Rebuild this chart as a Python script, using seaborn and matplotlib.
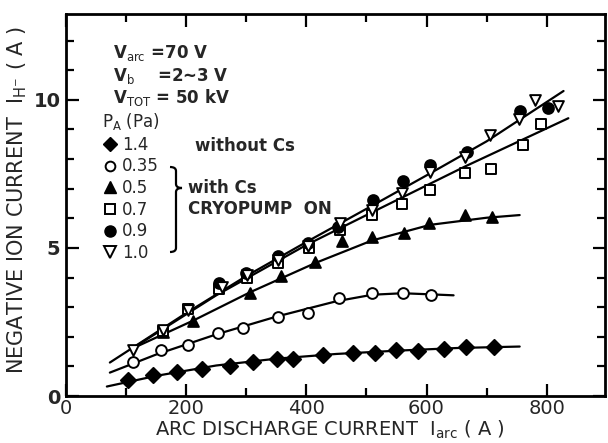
import numpy as np
import pandas as pd
import matplotlib
matplotlib.use("Agg")
import matplotlib.pyplot as plt
import seaborn as sns
from matplotlib.lines import Line2D
from matplotlib.path import Path
from matplotlib.patches import PathPatch
from matplotlib.ticker import MultipleLocator

# ---- data ----
i_14 = [104, 144, 184, 226, 273, 312, 351, 378, 428, 477, 514, 549, 585, 629, 665, 713]
h_14 = [0.55, 0.70, 0.82, 0.92, 1.02, 1.15, 1.25, 1.25, 1.38, 1.44, 1.46, 1.54, 1.52, 1.58, 1.66, 1.66]

i_035 = [112, 158, 203, 253, 294, 352, 402, 455, 510, 561, 607]
h_035 = [1.16, 1.55, 1.72, 2.14, 2.31, 2.68, 2.79, 3.30, 3.47, 3.47, 3.41]

i_05 = [162, 212, 306, 357, 415, 460, 509, 562, 604, 664, 709]
h_05 = [2.15, 2.52, 3.47, 4.05, 4.54, 5.25, 5.38, 5.50, 5.85, 6.11, 6.06]

i_07 = [162, 203, 255, 301, 353, 405, 456, 509, 559, 606, 664, 708, 760, 791]
h_07 = [2.20, 2.95, 3.60, 4.00, 4.50, 5.00, 5.60, 6.10, 6.50, 6.96, 7.52, 7.65, 8.48, 9.20]

i_09 = [255, 300, 353, 403, 452, 511, 561, 606, 667, 755, 802]
h_09 = [3.80, 4.15, 4.73, 5.16, 5.72, 6.62, 7.27, 7.80, 8.25, 9.62, 9.73]

i_10 = [112, 162, 203, 259, 301, 353, 403, 456, 509, 559, 606, 664, 705, 754, 780, 818]
h_10 = [1.55, 2.23, 2.92, 3.68, 4.10, 4.60, 5.05, 5.85, 6.27, 6.86, 7.58, 8.08, 8.80, 9.35, 10.0, 9.80]

# hand-drawn guide curves (knots)
c_up_x = [73, 200, 300, 400, 500, 600, 700, 828]
c_up_y = [1.13, 2.80, 4.05, 5.20, 6.32, 7.45, 8.60, 10.3]
c_07_x = [110, 250, 400, 506, 664, 836]
c_07_y = [1.60, 3.40, 5.10, 6.17, 7.75, 9.38]
c_05_x = [110, 212, 306, 416, 509, 606, 700, 755]
c_05_y = [1.60, 2.55, 3.50, 4.50, 5.25, 5.78, 6.02, 6.11]
c_035_x = [73, 150, 250, 350, 450, 510, 560, 610, 645]
c_035_y = [0.79, 1.40, 2.08, 2.68, 3.20, 3.42, 3.47, 3.43, 3.40]
c_14_x = [68, 150, 250, 350, 450, 550, 650, 755]
c_14_y = [0.32, 0.68, 1.03, 1.26, 1.42, 1.53, 1.62, 1.67]

x_ticks = [0, 200, 400, 600, 800]
y_ticks = [0, 5, 10]

sns.set_theme(style="ticks")
plt.rcParams["font.family"] = ["DejaVu Sans"]

W, H = 608, 443
fig = plt.figure(figsize=(W / 100, H / 100), dpi=100)
ax = fig.add_axes([66 / W, 1 - 396 / H, (605 - 66) / W, (396 - 14) / H])

lw = 1.6
for cx, cy in [(c_up_x, c_up_y), (c_07_x, c_07_y), (c_05_x, c_05_y),
               (c_035_x, c_035_y), (c_14_x, c_14_y)]:
    d = pd.DataFrame({"x": cx, "y": cy})
    sns.lineplot(data=d, x="x", y="y", sort=False, estimator=None,
                 color="black", lw=lw, ax=ax)

ms = 60
series = [
    (i_14, h_14, "D", "black", 1.4),
    (i_035, h_035, "o", "white", 1.4),
    (i_05, h_05, "^", "black", 1.4),
    (i_07, h_07, "s", "white", 1.4),
    (i_09, h_09, "o", "black", 1.4),
    (i_10, h_10, "v", "white", 1.4),
]
for xs, ys, mk, fc, mew in series:
    d = pd.DataFrame({"x": xs, "y": ys})
    sns.scatterplot(data=d, x="x", y="y", marker=mk, s=ms, color=fc,
                    edgecolor="black", linewidth=mew, ax=ax, zorder=5)

ax.set_xlim(0, 897)
ax.set_ylim(0, 12.9)
ax.set_xticks(x_ticks)
ax.set_yticks(y_ticks)
ax.xaxis.set_minor_locator(MultipleLocator(100))
ax.yaxis.set_minor_locator(MultipleLocator(1))
ax.tick_params(which="both", direction="in", top=True, right=True,
               width=1.6, color="black")
ax.tick_params(which="major", length=9, labelsize=14)
ax.tick_params(axis="x", which="major", pad=2)
ax.tick_params(axis="y", which="major", pad=4)
ax.tick_params(which="minor", length=6)
for lab in ax.get_yticklabels():
    lab.set_fontweight("bold")
for s in ax.spines.values():
    s.set_linewidth(2.0)
    s.set_color("black")
ax.set_xlabel("")
ax.set_ylabel("")

def fx(px):
    return px / W

def fy(py):
    return 1 - py / H

fig.text(fx(330), fy(436), r"ARC DISCHARGE CURRENT  I$_{\mathrm{arc}}$ ( A )",
         ha="center", va="baseline", fontsize=14)
fig.text(fx(17), fy(200), r"NEGATIVE ION CURRENT  I$_{\mathrm{H^{-}}}$ ( A )",
         ha="center", va="center", rotation=90, fontsize=15)

tk = dict(fontsize=12, ha="left", va="center", fontweight="bold")
fig.text(fx(113), fy(53), r"V$_{\mathrm{arc}}$ =70 V", **tk)
fig.text(fx(113), fy(76), r"V$_{\mathrm{b}}$    =2~3 V", **tk)
fig.text(fx(113), fy(98), r"V$_{\mathrm{TOT}}$ = 50 kV", **tk)

handles = [
    Line2D([], [], ls="none", marker="D", mfc="black", mec="black", ms=7),
    Line2D([], [], ls="none", marker="o", mfc="white", mec="black", mew=1.4, ms=7),
    Line2D([], [], ls="none", marker="^", mfc="black", mec="black", ms=8),
    Line2D([], [], ls="none", marker="s", mfc="white", mec="black", mew=1.4, ms=7),
    Line2D([], [], ls="none", marker="o", mfc="black", mec="black", ms=8),
    Line2D([], [], ls="none", marker="v", mfc="white", mec="black", mew=1.4, ms=8),
]
labels = ["1.4", "0.35", "0.5", "0.7", "0.9", "1.0"]
leg = fig.legend(handles, labels, title=r"P$_{\mathrm{A}}$ (Pa)",
                 loc="upper left", bbox_to_anchor=(fx(102), fy(111)),
                 frameon=False, fontsize=12, title_fontsize=12,
                 handletextpad=0.2, labelspacing=0.22, handlelength=1.0,
                 borderpad=0.0, borderaxespad=0.0)
leg._legend_box.align = "left"

fig.text(fx(195), fy(146), "without Cs", **tk)
fig.text(fx(188), fy(188), "with Cs", **tk)
fig.text(fx(188), fy(209), "CRYOPUMP  ON", **tk)

# brace
bx, y0, y1, bw = 176, 167, 252, 6
ym = 188
verts = [
    (bx - bw, y0), (bx, y0), (bx, y0 + 4),
    (bx, ym - 4), (bx, ym), (bx + bw, ym),
    (bx, ym), (bx, ym + 4),
    (bx, y1 - 4), (bx, y1), (bx - bw, y1),
]
codes = [Path.MOVETO, Path.CURVE3, Path.CURVE3,
         Path.LINETO, Path.CURVE3, Path.CURVE3,
         Path.CURVE3, Path.CURVE3,
         Path.LINETO, Path.CURVE3, Path.CURVE3]
verts_f = [(fx(a), fy(b)) for a, b in verts]
fig.patches.append(PathPatch(Path(verts_f, codes), transform=fig.transFigure,
                             fill=False, lw=1.6, color="black"))

fig.savefig("out.png", dpi=100)
